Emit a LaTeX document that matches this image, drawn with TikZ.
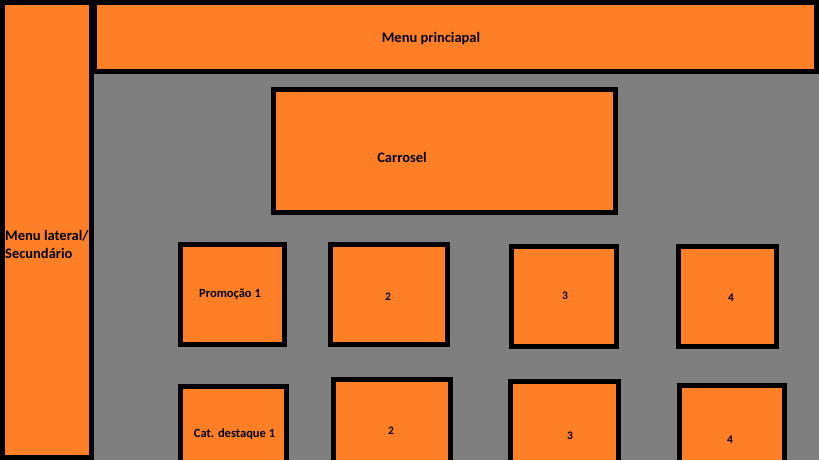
\documentclass[tikz,border=0pt]{standalone}
\usepackage{fontspec}
\setmainfont{Carlito}
\definecolor{laranja}{HTML}{FF7F27}
\definecolor{fundo}{HTML}{7F7F7F}
\tikzset{
  bloco/.style={draw=black, fill=laranja, line width=5pt, inner sep=0pt, rectangle},
  rotulo/.style={font=\bfseries\fontsize{14.5}{18}\selectfont, inner sep=0pt},
  rotulopeq/.style={font=\bfseries\fontsize{12.5}{14}\selectfont, inner sep=0pt},
  numero/.style={font=\bfseries\fontsize{11.5}{13}\selectfont, inner sep=0pt}
}
\begin{document}
\begin{tikzpicture}[x=1pt, y=-1pt]
  \useasboundingbox (0,0) rectangle (819,460);
  \clip (0,0) rectangle (819,460);
  \fill[fundo] (0,0) rectangle (819,460);
  % menus
  \node[bloco, minimum width=89pt, minimum height=455pt] (lateral) at (47,230) {};
  \node[bloco, minimum width=722pt, minimum height=69pt] (principal) at (455.5,37) {};
  \node[bloco, minimum width=342pt, minimum height=123pt] (carrosel) at (444.5,151) {};
  % primeira linha
  \node[bloco, minimum width=104pt, minimum height=100pt] (promo1) at (232.5,294.5) {};
  \node[bloco, minimum width=117pt, minimum height=100pt] (promo2) at (389,294.5) {};
  \node[bloco, minimum width=105pt, minimum height=100pt] (promo3) at (564,296.5) {};
  \node[bloco, minimum width=98pt, minimum height=100pt] (promo4) at (727.5,296.5) {};
  % segunda linha
  \node[bloco, anchor=north, minimum width=106pt, minimum height=110pt] (cat1) at (233.5,384) {};
  \node[bloco, anchor=north, minimum width=117pt, minimum height=110pt] (cat2) at (392,377) {};
  \node[bloco, anchor=north, minimum width=108pt, minimum height=110pt] (cat3) at (564.5,379) {};
  \node[bloco, anchor=north, minimum width=105pt, minimum height=110pt] (cat4) at (732,383) {};
  % textos
  \node[rotulo] (tprincipal) at (431,39) {Menu princiapal};
  \node[rotulo] (tcarrosel) at (402,157) {Carrosel};
  \node[rotulo, anchor=west, align=left] (tlateral) at (5,244) {Menu lateral/\\Secundário};
  \node[rotulopeq] (tpromo1) at (230,294) {Promoção 1};
  \node[numero] (tpromo2) at (388,297) {2};
  \node[numero] (tpromo3) at (565,296) {3};
  \node[numero] (tpromo4) at (731,298) {4};
  \node[rotulopeq] (tcat1) at (234.5,434) {Cat. destaque 1};
  \node[numero] (tcat2) at (391,431) {2};
  \node[numero] (tcat3) at (570,436) {3};
  \node[numero] (tcat4) at (730,440) {4};
\end{tikzpicture}
\end{document}
